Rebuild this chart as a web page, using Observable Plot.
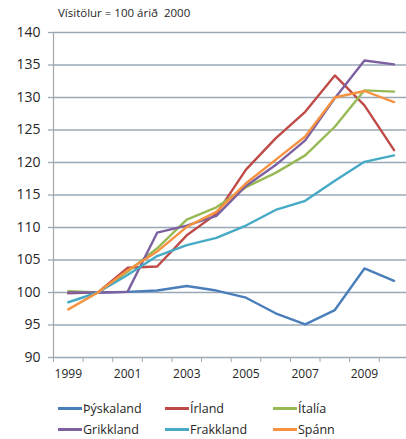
<!DOCTYPE html>
<html>
<head>
<meta charset="utf-8">
<script src="https://cdn.jsdelivr.net/npm/d3@7"></script>
<script src="https://cdn.jsdelivr.net/npm/@observablehq/plot@0.6"></script>
<style>
  body { margin: 0; background: #fff; font-family: "Open Sans", sans-serif; color: #262626; }
  #wrap { width: 406px; }
  .sub { font-size: 11.5px; height: 22px; padding-left: 58px; box-sizing: border-box; padding-top: 5px; line-height: 16px; white-space: pre; }
  .legend { display: grid; grid-template-columns: 107px 108px auto; padding-left: 58px; padding-top: 4px; font-size: 12.5px; }
  .item { height: 21px; line-height: 21px; white-space: nowrap; }
  .sw { display: inline-block; width: 24px; height: 2.5px; vertical-align: middle; margin-right: 1px; position: relative; top: -1px; }
  svg { display: block; }
</style>
</head>
<body>
<div id="wrap">
  <div class="sub">Vísitölur = 100 árið  2000</div>
  <div id="chart"></div>
  <div class="legend" id="legend"></div>
</div>
<script>
// Index values (2000 = 100) by year
const years = [1999, 2000, 2001, 2002, 2003, 2004, 2005, 2006, 2007, 2008, 2009, 2010];
const thyskaland = [99.9, 100, 100.1, 100.3, 101.0, 100.3, 99.2, 96.8, 95.1, 97.3, 103.7, 101.8];
const irland     = [99.9, 100, 103.8, 104.0, 108.8, 112.1, 118.9, 123.7, 127.8, 133.4, 128.8, 121.9];
const italia     = [100.2, 100, 103.2, 106.8, 111.2, 113.1, 116.2, 118.4, 121.1, 125.5, 131.1, 130.9];
const grikkland  = [100.0, 100, 100.1, 109.2, 110.3, 111.8, 116.4, 119.6, 123.4, 129.9, 135.7, 135.1];
const frakkland  = [98.5, 100, 102.7, 105.6, 107.3, 108.4, 110.3, 112.7, 114.1, 117.2, 120.1, 121.1];
const spann      = [97.4, 100, 103.4, 106.3, 110.1, 112.4, 116.8, 120.4, 124.0, 130.0, 131.0, 129.3];

const countries = ["Þýskaland", "Írland", "Ítalía", "Grikkland", "Frakkland", "Spánn"];
const seriesValues = [thyskaland, irland, italia, grikkland, frakkland, spann];
const colors = ["#4a7ebb", "#be4b48", "#98b954", "#7d60a0", "#46aac5", "#f69240"];

const yTicks = [90, 95, 100, 105, 110, 115, 120, 125, 130, 135, 140];
const yearLabels = [1999, 2001, 2003, 2005, 2007, 2009];

// Long table: one row per country and year
const rows = countries.flatMap((land, i) =>
  years.map((year, j) => ({land, year, value: seriesValues[i][j]}))
);

// Category boundaries between years, for the x tick marks
const boundaries = years.map(y => y - 0.5).concat([years[years.length - 1] + 0.5]);

const gridColor = "#98a9b6";

const chart = Plot.plot({
  width: 406,
  height: 372,
  marginLeft: 53,
  marginRight: 0,
  marginTop: 10,
  marginBottom: 37,
  style: {fontFamily: "'Open Sans', sans-serif", background: "#fff", color: "#262626"},
  x: {domain: [1998.5, 2010.42], label: null},
  y: {domain: [90, 140], label: null},
  color: {domain: countries, range: colors},
  marks: [
    Plot.ruleY(yTicks, {stroke: gridColor, strokeWidth: 1.3}),
    Plot.ruleX([1998.5], {stroke: "#a6a6a6", strokeWidth: 1.2}),
    Plot.axisY(yTicks, {tickSize: 5, tickPadding: 8, stroke: gridColor, strokeWidth: 1.3, fill: "#262626", fontSize: 14, label: null}),
    Plot.axisX(boundaries, {tickSize: 5, stroke: "#a6a6a6", fill: "none", label: null}),
    Plot.axisX(yearLabels, {tickSize: 0, tickPadding: 12, fill: "#262626", fontSize: 12, tickFormat: d => String(d), label: null}),
    Plot.line(rows, {x: "year", y: "value", z: "land", stroke: "land", strokeWidth: 2.4})
  ]
});
document.getElementById("chart").appendChild(chart);

// Legend with line swatches, three per row
const legend = document.getElementById("legend");
countries.forEach((name, i) => {
  const item = document.createElement("div");
  item.className = "item";
  const sw = document.createElement("span");
  sw.className = "sw";
  sw.style.background = colors[i];
  item.appendChild(sw);
  item.appendChild(document.createTextNode(name));
  legend.appendChild(item);
});
</script>
</body>
</html>
